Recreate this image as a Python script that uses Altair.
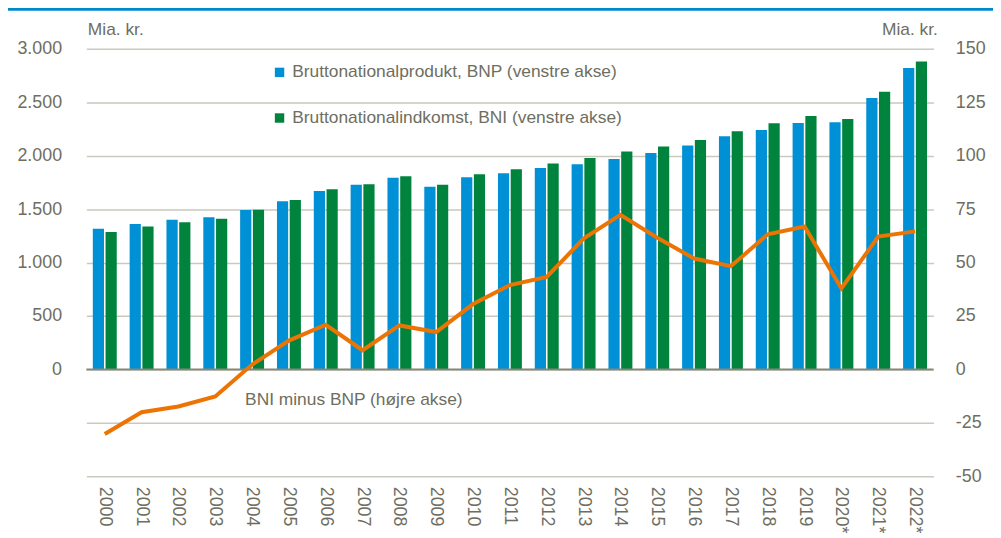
import altair as alt
import pandas as pd

years = ["2000", "2001", "2002", "2003", "2004", "2005", "2006", "2007", "2008", "2009",
         "2010", "2011", "2012", "2013", "2014", "2015", "2016", "2017", "2018", "2019",
         "2020*", "2021*", "2022*"]
bnp = [1316, 1362, 1400, 1424, 1492, 1573, 1669, 1728, 1793, 1709,
       1799, 1836, 1885, 1920, 1969, 2025, 2096, 2183, 2241, 2307,
       2313, 2539, 2820]
bni = [1285, 1337, 1378, 1409, 1495, 1585, 1687, 1734, 1808, 1728,
       1827, 1873, 1926, 1978, 2040, 2087, 2146, 2229, 2303, 2372,
       2344, 2598, 2882]
diff = [-30.2, -20.0, -17.3, -12.6, 2.3, 13.5, 20.9, 9.0, 20.6, 17.5,
        30.6, 39.5, 43.3, 61.2, 72.3, 61.6, 51.9, 48.3, 63.2, 66.9,
        37.9, 62.2, 64.6]

s_bnp = "Bruttonationalprodukt, BNP (venstre akse)"
s_bni = "Bruttonationalindkomst, BNI (venstre akse)"
series = [s_bnp, s_bni]
colors = ["#0090D5", "#00843D"]
line_color = "#EC7405"
line_label = "BNI minus BNP (højre akse)"
unit = "Mia. kr."

FONT = "Liberation Sans Narrow, Arial Narrow, Liberation Sans, Arial, sans-serif"
TXT = "#6E6E60"
GRID = "#C9C9BD"
FS = 17.5

bars_df = pd.DataFrame(
    [{"year": y, "series": s_bnp, "value": v} for y, v in zip(years, bnp)]
    + [{"year": y, "series": s_bni, "value": v} for y, v in zip(years, bni)]
)
line_df = pd.DataFrame({"year": years, "diff": diff})

W, H = 854, 431

xenc = alt.X("year:N", sort=years,
             scale=alt.Scale(paddingInner=0.35, paddingOuter=0.175),
             axis=alt.Axis(title=None, labelAngle=90, labelAlign="left", labelBaseline="middle",
                           labelPadding=10, ticks=False, domain=False, grid=False,
                           labelFontSize=18, labelColor=TXT, labelFont=FONT))

bars = alt.Chart(bars_df).mark_bar().encode(
    x=xenc,
    xOffset=alt.XOffset("series:N", sort=series, scale=alt.Scale(paddingInner=0.12)),
    y=alt.Y("value:Q", scale=alt.Scale(domain=[-1000, 3000], nice=False),
            axis=alt.Axis(title=unit, titleAngle=0, titleX=1, titleY=-10, titleAlign="left",
                          titleBaseline="bottom", titleFontWeight="normal", titleFontSize=FS,
                          titleColor=TXT, titleFont=FONT,
                          values=[0, 500, 1000, 1500, 2000, 2500, 3000],
                          labelExpr="replace(format(datum.value, ','), ',', '.')",
                          grid=False, ticks=False, domain=False, labelPadding=25,
                          labelFontSize=18, labelColor=TXT, labelFont=FONT)),
    color=alt.Color("series:N", sort=series,
                    scale=alt.Scale(domain=series, range=colors),
                    legend=alt.Legend(title=None, orient="none", legendX=186, legendY=15,
                                      direction="vertical", symbolType="square", symbolSize=90,
                                      symbolStrokeWidth=0, labelFontSize=FS, labelColor=TXT,
                                      labelFont=FONT, rowPadding=27, labelOffset=4,
                                      labelLimit=600)),
)

right_axis = alt.Axis(title=unit, orient="right", titleAngle=0, titleX=4, titleY=-10,
                      titleAlign="right", titleBaseline="bottom", titleFontWeight="normal",
                      titleFontSize=FS, titleColor=TXT, titleFont=FONT,
                      values=[-50, -25, 0, 25, 50, 75, 100, 125, 150],
                      labelExpr="datum.value < 0 ? '-' + format(-datum.value, 'd') : format(datum.value, 'd')",
                      grid=True, gridColor=GRID, gridWidth=1.5,
                      ticks=False, domain=False, labelPadding=22,
                      labelFontSize=18, labelColor=TXT, labelFont=FONT)
rscale = alt.Scale(domain=[-50, 150], nice=False)

line = alt.Chart(line_df).mark_line(color=line_color, strokeWidth=4, strokeJoin="miter").encode(
    x=alt.X("year:N", sort=years),
    y=alt.Y("diff:Q", scale=rscale, axis=right_axis),
)

zero = alt.Chart(pd.DataFrame({"diff": [0]})).mark_rule(color="#86867A", strokeWidth=2).encode(
    y=alt.Y("diff:Q", scale=rscale, axis=right_axis),
)

label = alt.Chart(pd.DataFrame({"t": [line_label]})).mark_text(
    align="left", baseline="middle", fontSize=FS, color=TXT, font=FONT
).encode(x=alt.value(160), y=alt.value(354), text="t:N")

topbar = alt.Chart(pd.DataFrame({"t": [0]})).mark_rule(color="#0088CC", strokeWidth=3, clip=False).encode(
    x=alt.value(-81), x2=alt.value(914), y=alt.value(-40)
)

right = alt.layer(zero, line)

chart = alt.layer(bars, right, label, topbar).resolve_scale(
    y="independent", color="independent"
).properties(
    width=W, height=H,
    background="white",
    autosize=alt.AutoSizeParams(type="none"),
    padding={"left": 79, "top": 39, "right": 60, "bottom": 60},
).configure_view(stroke=None)

chart.save("out.html", embed_options={"renderer": "svg", "actions": False})
